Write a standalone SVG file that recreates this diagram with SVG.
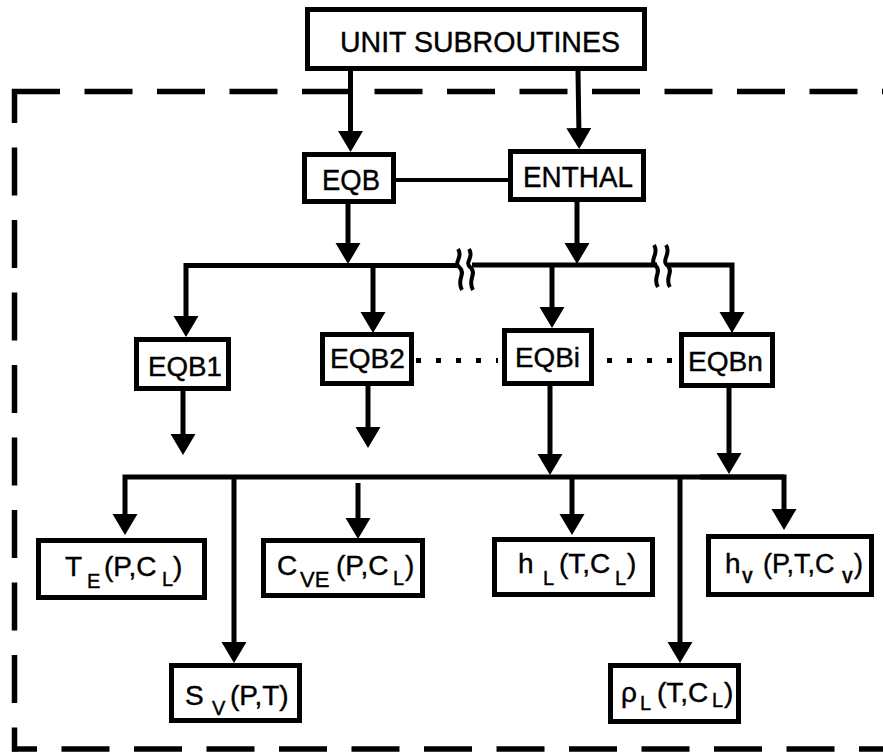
<svg xmlns="http://www.w3.org/2000/svg" width="883" height="755" viewBox="0 0 883 755">
<style>
  .box { fill: #fff; stroke: #000; stroke-width: 5; }
  .t { font-family: "Liberation Sans", Arial, sans-serif; font-size: 28px; fill: #000; stroke: #000; stroke-width: 0.4; }
  .sub { font-size: 20px; }
  .vb { font-size: 16px; font-weight: bold; }
  .c { fill: none; stroke: #000; stroke-width: 5; stroke-linejoin: miter; }
  .brk { fill: none; stroke: #000; stroke-width: 4; }
  .dash { fill: none; stroke: #000; stroke-width: 5.5; stroke-dasharray: 48 24.5; }
  .dot { fill: none; stroke: #000; stroke-width: 5; stroke-dasharray: 5 15; }
</style>
<defs>
  <marker id="ah" markerUnits="userSpaceOnUse" markerWidth="21" markerHeight="26" viewBox="0 -13 21 26" refX="9" refY="0" orient="auto">
    <path d="M0,-12.5 L21,0 L0,12.5 Z" fill="#000"/>
  </marker>
</defs>
<rect width="883" height="755" fill="#fff"/>

<g id="border">
  <path class="dash" d="M12,91.5 H883"/>
  <path class="dash" d="M14.5,89 V751.5" style="stroke-dashoffset:14"/>
  <path class="dash" d="M12,749 H883" style="stroke-dashoffset:23"/>
</g>

<g id="connectors">
  <path class="c" d="M350.5,71 V140" marker-end="url(#ah)"/>
  <path class="c" d="M578,71 L579,137" marker-end="url(#ah)"/>
  <path class="c" d="M396,180 H508" style="stroke-width:4"/>
  <path class="c" d="M348,204 V252" marker-end="url(#ah)"/>
  <path class="c" d="M577,202 V252" marker-end="url(#ah)"/>
  <path class="c" d="M458,265.5 H186 V325" marker-end="url(#ah)"/>
  <path class="c" d="M472,265 H657"/>
  <path class="c" d="M668,265 H732 V321" marker-end="url(#ah)"/>
  <path class="brk" d="M458,249 C464,258 452,262 460,268 C466,274 456,280 462,290"/>
  <path class="brk" d="M469,249 C475,258 463,262 471,268 C477,274 467,280 473,290"/>
  <path class="brk" d="M654,245 C660,254 648,260 656,266 C662,272 652,278 658,287"/>
  <path class="brk" d="M666,245 C672,254 660,260 668,266 C674,272 664,278 670,287"/>
  <path class="c" d="M373,266 V321" marker-end="url(#ah)"/>
  <path class="c" d="M552,265 V316" marker-end="url(#ah)"/>
  <path class="dot" d="M416,360.5 H498"/>
  <path class="dot" d="M607,360.5 H673"/>
  <path class="c" d="M183,391 V443" marker-end="url(#ah)"/>
  <path class="c" d="M368,386 V436" marker-end="url(#ah)"/>
  <path class="c" d="M550,386 V463" marker-end="url(#ah)"/>
  <path class="c" d="M729,388 V462" marker-end="url(#ah)"/>
  <path class="c" d="M784,477 H125 V523" marker-end="url(#ah)"/>
  <path class="c" d="M700,477 H784 V518" marker-end="url(#ah)"/>
  <path class="c" d="M234,477 V651" marker-end="url(#ah)"/>
  <path class="c" d="M358,483 V527" marker-end="url(#ah)"/>
  <path class="c" d="M572,477 V523" marker-end="url(#ah)"/>
  <path class="c" d="M680,477 V651" marker-end="url(#ah)"/>
</g>

<g id="unit">
  <rect class="box" x="307.5" y="9.5" width="337" height="59"/>
  <text class="t" x="340" y="52" textLength="280" lengthAdjust="spacingAndGlyphs" style="font-size:29px">UNIT SUBROUTINES</text>
</g>
<g id="eqb">
  <rect class="box" x="304.5" y="154.5" width="89" height="47"/>
  <text class="t" x="322" y="190" textLength="58" lengthAdjust="spacingAndGlyphs" style="font-size:30px">EQB</text>
</g>
<g id="enthal">
  <rect class="box" x="510.5" y="151.5" width="133" height="48"/>
  <text class="t" x="523" y="187" textLength="110" lengthAdjust="spacingAndGlyphs" style="font-size:29px">ENTHAL</text>
</g>
<g id="eqb1">
  <rect class="box" x="136.5" y="339.5" width="92" height="49"/>
  <text class="t" x="148" y="376" textLength="74" lengthAdjust="spacingAndGlyphs">EQB1</text>
</g>
<g id="eqb2">
  <rect class="box" x="322.5" y="334.5" width="89" height="49"/>
  <text class="t" x="330" y="368" textLength="75" lengthAdjust="spacingAndGlyphs">EQB2</text>
</g>
<g id="eqbi">
  <rect class="box" x="504.5" y="330.5" width="87" height="53"/>
  <text class="t" x="515" y="367" textLength="65" lengthAdjust="spacingAndGlyphs">EQBi</text>
</g>
<g id="eqbn">
  <rect class="box" x="681.5" y="334.5" width="91" height="51"/>
  <text class="t" x="688" y="371" textLength="75" lengthAdjust="spacingAndGlyphs">EQBn</text>
</g>
<g id="te">
  <rect class="box" x="38.5" y="540.5" width="166" height="57"/>
  <text class="t"><tspan x="65" y="576">T</tspan><tspan class="sub" x="87" y="588">E</tspan><tspan x="104" y="576">(P,C</tspan><tspan class="sub" x="162" y="586">L</tspan><tspan x="173" y="576">)</tspan></text>
</g>
<g id="cve">
  <rect class="box" x="263.5" y="540.5" width="159" height="55"/>
  <text class="t"><tspan x="277" y="575">C</tspan><tspan class="sub" x="300" y="587" style="font-size:22px">VE</tspan><tspan x="336" y="575">(P,C</tspan><tspan class="sub" x="393" y="585">L</tspan><tspan x="405" y="575">)</tspan></text>
</g>
<g id="hl">
  <rect class="box" x="494.5" y="539.5" width="158" height="55"/>
  <text class="t"><tspan x="518" y="573">h</tspan><tspan class="sub" x="543" y="585">L</tspan><tspan x="559" y="573">(T,C</tspan><tspan class="sub" x="615" y="585">L</tspan><tspan x="627" y="573">)</tspan></text>
</g>
<g id="hv">
  <rect class="box" x="708.5" y="536.5" width="163" height="58"/>
  <text class="t"><tspan x="725" y="573">h</tspan><tspan class="vb" x="742" y="583">V</tspan><tspan x="763" y="573" style="font-size:27px">(P,T,C</tspan><tspan class="vb" x="842" y="583">V</tspan><tspan x="854" y="573" style="font-size:27px">)</tspan></text>
</g>
<g id="sv">
  <rect class="box" x="171.5" y="665.5" width="128" height="55"/>
  <text class="t"><tspan x="185" y="705">S</tspan><tspan class="sub" x="212" y="715">V</tspan><tspan x="230" y="705">(P,T)</tspan></text>
</g>
<g id="rhol">
  <rect class="box" x="610.5" y="665.5" width="128" height="56"/>
  <text class="t"><tspan x="621" y="702">ρ</tspan><tspan class="sub" x="640" y="710">L</tspan><tspan x="657" y="702">(T,C</tspan><tspan class="sub" x="712" y="707">L</tspan><tspan x="724" y="702">)</tspan></text>
</g>
</svg>
